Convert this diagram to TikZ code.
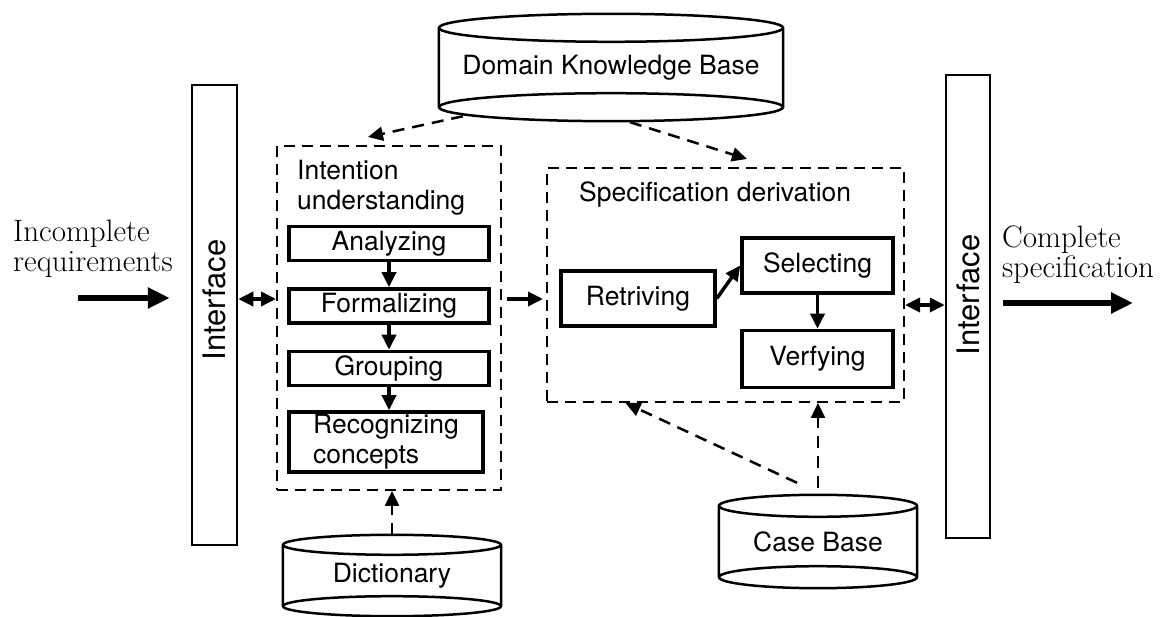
\documentclass[tikz,border=0pt]{standalone}
\usepackage{fontspec}
\newfontfamily\helv{TeX Gyre Heros}
\usetikzlibrary{positioning, arrows.meta}
\tikzset{
    >={Triangle[length=15pt,width=14pt]}, % filled arrow heads
    node distance=25pt, % gap between the step boxes
    sanstext/.style={inner sep=0pt, font=\helv\fontsize{26.5}{30}\selectfont},
    seriftext/.style={inner sep=0pt, font=\fontsize{31}{30}\selectfont},
    stepbox/.style={sanstext, draw, line width=3.5pt, minimum width=200pt, minimum height=34pt},
    groupbox/.style={draw, dash pattern=on 11pt off 7pt, line width=2pt, inner sep=0pt},
    iface/.style={draw, line width=2.5pt, minimum width=45pt, minimum height=460pt},
    drum/.style={line width=2.5pt},
    steplink/.style={->, line width=3.5pt},
    bothlink/.style={<->, line width=3.5pt},
    dashlink/.style={->, line width=2.5pt, dash pattern=on 12pt off 8pt},
    biglink/.style={-{Triangle[length=22pt,width=20pt]}, line width=6pt},
}
% outline of a drum round a node: name, x radius, y radius
\newcommand\drawdrum[3]{%
    \draw[drum] (#1.north west) -- (#1.south west) (#1.north east) -- (#1.south east)
        (#1.north) ellipse [x radius=#2, y radius=#3]
        (#1.south) ellipse [x radius=#2, y radius=#3];
}

\begin{document}
\begin{tikzpicture}[x=1pt, y=-1pt]
    \useasboundingbox (0,0) rectangle (1168,617);

    % interfaces
    \node[iface] (lif) at (214.5,315) {};
    \node[sanstext, font=\helv\fontsize{31}{31}\selectfont, rotate=90] (liftxt) at (214.5,300) {Interface};
    \node[iface, minimum width=44pt, minimum height=463pt] (rif) at (968,306.5) {};
    \node[sanstext, font=\helv\fontsize{31}{31}\selectfont, rotate=90] (riftxt) at (968,295) {Interface};

    \node[seriftext, anchor=west, align=left] (intext) at (13,249) {Incomplete\\requirements};
    \node[seriftext, anchor=west, align=left] (outtext) at (1002,255) {Complete\\specification};

    % intention understanding
    \node[groupbox, minimum width=224pt, minimum height=344pt] (int) at (389,318) {};
    \node[sanstext, anchor=west, align=left] (inttitle) at (297,188) {Intention\\understanding};
    \node[stepbox] (ana) at (389,243.5) {Analyzing};
    \node[stepbox, below=of ana] (frm) {Formalizing};
    \node[stepbox, below=of frm] (grp) {Grouping};
    \node[stepbox, minimum width=194pt, minimum height=60pt, align=left,
          below=23pt of grp.south west, anchor=north west] (rec) {Recognizing\\concepts};

    % specification derivation
    \node[groupbox, minimum width=357pt, minimum height=234pt] (spec) at (725.5,285) {};
    \node[sanstext, anchor=west] (spectitle) at (579,194) {Specification derivation};
    \node[stepbox, minimum width=154pt, minimum height=55pt] (ret) at (638,298.5) {Retriving};
    \node[stepbox, minimum width=151pt, minimum height=55pt] (sel) at (817.5,265.5) {Selecting};
    \node[stepbox, minimum width=151pt, minimum height=57pt, below=34pt of sel] (ver) {Verfying};

    % data stores
    \node[sanstext, minimum width=344pt, minimum height=79pt] (dkb) at (611,67.5) {Domain Knowledge Base};
    \drawdrum{dkb}{172pt}{14pt}
    \node[sanstext, minimum width=218pt, minimum height=61pt] (dict) at (392,575.5) {Dictionary};
    \drawdrum{dict}{109pt}{10pt}
    \node[sanstext, minimum width=198pt, minimum height=71pt] (case) at (818,541.5) {Case Base};
    \drawdrum{case}{99pt}{11pt}

    % links
    \draw[steplink] (ana) -- (frm);
    \draw[steplink] (frm) -- (grp);
    \draw[steplink] (grp.south) -- (grp.south |- rec.north);
    \draw[steplink] (ret.east) -- (sel.west);
    \draw[steplink] (sel) -- (ver);

    \coordinate (io) at (0,299);
    \coordinate (oi) at (0,305);
    \draw[bothlink] (io -| lif.east) -- (io -| int.west);
    \draw[steplink, shorten <=5pt, shorten >=3pt] (io -| int.east) -- (io -| spec.west);
    \draw[bothlink] (oi -| spec.east) -- (oi -| rif.west);

    \coordinate (src) at (78,298);
    \coordinate (dst) at (1133,303);
    \draw[biglink, shorten >=21pt] (src) -- (src -| lif.west);
    \draw[biglink, shorten <=12pt] (dst -| rif.east) -- (dst);

    \draw[dashlink] ([xshift=-148pt,yshift=-9pt]dkb.south) -- ([xshift=-21pt,yshift=8pt]int.north);
    \draw[dashlink] ([xshift=19pt,yshift=-15pt]dkb.south) -- ([xshift=21.5pt,yshift=8pt]spec.north);
    \draw[dashlink] ([yshift=10pt]dict.north) -- (dict.north |- int.south);
    \draw[dashlink] ([yshift=18pt]case.north) -- (case.north |- spec.south);
    \draw[dashlink] ([xshift=-21pt,yshift=23pt]case.north) -- ([xshift=-100pt]spec.south);
\end{tikzpicture}
\end{document}
